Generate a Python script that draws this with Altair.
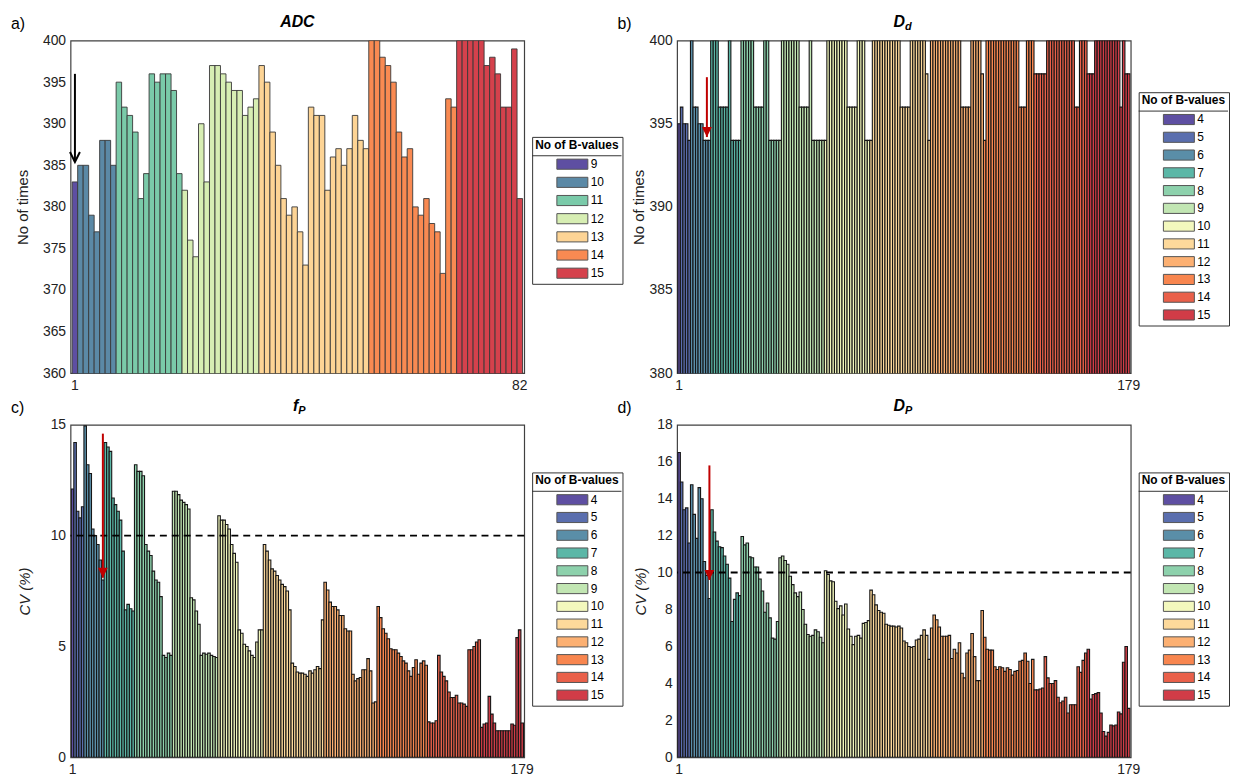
import altair as alt
import pandas as pd

FONT = "Liberation Sans"

# ---------------- Panel a : ADC ----------------
a_groups = ["9", "10", "11", "12", "13", "14", "15"]
a_sizes = [1, 7, 12, 14, 20, 16, 12]
a_colors = ["#5e4fa2", "#5b89a6", "#7acaa9", "#d7eeb3", "#fdd495", "#f98a52", "#d5414c"]
a_values = [
    383,
    385, 385, 379, 377, 388, 388, 385,
    395, 392, 391, 389, 381, 384, 396, 395, 396, 396, 394, 384,
    382, 376, 374, 390, 383, 397, 397, 396, 395, 394, 394, 391, 392, 393,
    397, 395, 389, 385, 381, 379, 380, 377, 373, 392, 391, 391, 382, 386, 387, 385, 387, 391, 388, 387,
    400, 400, 398, 397, 395, 389, 386, 387, 380, 379, 381, 378, 377, 372, 393, 392,
    400, 400, 400, 400, 400, 397, 398, 396, 392, 392, 399, 381,
]

# ---------------- Panels b-d : 179 combinations ----------------
bd_groups = ["4", "5", "6", "7", "8", "9", "10", "11", "12", "13", "14", "15"]
bd_sizes = [1, 4, 8, 12, 15, 18, 18, 24, 21, 20, 21, 17]
bd_colors = ["#5e4fa2", "#5a6eae", "#5a8ea8", "#5bb7a7", "#8dd1ac", "#c2e6b3",
             "#f3f8bd", "#fdd99b", "#fcb072", "#f8864f", "#e9604a", "#d13c47"]

b_values = [
    395, 396, 395, 395, 394, 400, 396, 396, 395, 395,
    394, 394, 394, 400, 400, 400, 396, 396, 396, 396,
    400, 394, 394, 394, 394, 400, 400, 400, 400, 400,
    396, 396, 396, 396, 400, 400, 394, 394, 394, 394,
    394, 400, 400, 400, 400, 400, 400, 400, 396, 396,
    396, 396, 400, 394, 394, 394, 394, 394, 394, 400,
    400, 400, 400, 400, 400, 400, 400, 396, 396, 396,
    396, 400, 400, 400, 394, 394, 394, 400, 400, 400,
    400, 400, 400, 400, 400, 400, 400, 400, 396, 396,
    396, 396, 400, 400, 400, 400, 400, 400, 398, 394,
    400, 400, 400, 400, 400, 400, 400, 400, 400, 400,
    400, 400, 396, 396, 396, 396, 400, 400, 400, 400,
    398, 394, 400, 400, 400, 400, 400, 400, 400, 400,
    400, 400, 400, 400, 400, 396, 396, 396, 400, 400,
    400, 398, 398, 398, 398, 398, 400, 400, 400, 400,
    400, 400, 400, 400, 400, 400, 400, 396, 396, 400,
    400, 400, 398, 398, 398, 400, 400, 400, 400, 400,
    400, 400, 400, 400, 400, 396, 400, 398, 398,
]

c_values = [
    12.1, 14.2, 11.1, 10.8, 11.3, 14.95, 13.2, 12.8, 10.3, 10.0,
    9.6, 8.9, 8.0, 14.2, 14.0, 13.8, 11.7, 11.4, 11.1, 10.7,
    9.3, 6.65, 6.9, 6.7, 6.6, 13.2, 12.9, 12.9, 12.7, 9.6,
    9.3, 9.1, 8.4, 8.0, 7.9, 7.25, 4.6, 4.5, 4.7, 4.6,
    12.0, 12.0, 11.85, 11.6, 11.5, 11.4, 11.2, 7.2, 7.1, 6.6,
    6.0, 4.6, 4.7, 4.65, 4.7, 4.6, 4.55, 4.5, 10.9, 10.7,
    10.7, 10.5, 10.3, 9.6, 9.2, 8.8, 5.75, 5.6, 5.1, 5.0,
    4.8, 4.6, 4.5, 5.2, 5.75, 5.75, 9.6, 9.3, 8.9, 8.5,
    8.4, 8.2, 8.0, 7.8, 7.7, 7.5, 6.65, 4.25, 4.1, 3.85,
    3.8, 3.8, 3.75, 3.65, 3.9, 3.8, 3.95, 4.1, 4.0, 6.2,
    7.9, 7.55, 7.0, 6.8, 6.8, 6.65, 6.4, 6.4, 5.8, 5.7,
    5.7, 3.75, 3.45, 3.55, 3.6, 3.95, 3.95, 4.45, 3.9, 2.45,
    2.5, 6.8, 6.3, 5.8, 5.6, 5.35, 4.9, 4.85, 4.85, 4.7,
    4.55, 4.35, 4.25, 3.9, 3.65, 4.05, 4.4, 3.75, 4.25, 4.35,
    4.15, 1.6, 1.55, 1.55, 1.65, 4.6, 3.85, 3.65, 3.45, 2.95,
    2.7, 2.7, 2.8, 2.45, 2.45, 2.4, 2.3, 4.85, 4.85, 5.0,
    5.2, 5.3, 1.35, 1.5, 1.55, 2.75, 1.95, 1.55, 1.2, 1.2,
    1.2, 1.2, 1.2, 1.2, 1.5, 1.45, 5.4, 5.75, 1.55,
]

d_values = [
    16.5, 14.9, 13.4, 13.5, 11.6, 14.75, 13.15, 11.85, 14.6, 14.0,
    10.6, 9.85, 8.6, 13.4, 12.2, 11.7, 11.4, 11.35, 10.9, 10.45,
    9.7, 7.35, 8.55, 8.9, 8.75, 11.95, 11.5, 11.6, 10.85, 10.8,
    10.3, 10.3, 9.65, 9.0, 7.85, 8.35, 7.55, 6.45, 6.4, 7.35,
    10.8, 10.9, 10.65, 10.45, 9.8, 9.35, 8.9, 8.7, 8.95, 8.0,
    7.2, 6.65, 6.55, 6.6, 6.9, 6.8, 6.5, 6.2, 10.1, 9.9,
    9.55, 9.5, 8.45, 8.05, 8.2, 7.7, 8.3, 6.95, 6.55, 6.1,
    6.55, 6.6, 6.45, 7.25, 7.3, 7.4, 9.05, 8.8, 8.25, 7.95,
    7.85, 7.8, 7.2, 7.15, 7.1, 7.1, 7.05, 7.1, 7.0, 6.3,
    6.2, 6.0, 5.95, 6.0, 6.35, 6.4, 6.6, 6.9, 6.6, 5.3,
    7.0, 7.7, 7.45, 7.05, 6.55, 6.55, 6.55, 6.6, 5.35, 5.85,
    5.65, 6.2, 4.55, 4.3, 5.65, 5.8, 6.7, 5.45, 4.15, 4.15,
    7.95, 6.5, 5.85, 5.8, 5.8, 4.9, 4.75, 4.9, 4.85, 4.65,
    4.85, 4.75, 4.45, 4.65, 4.7, 5.2, 5.25, 5.65, 5.2, 4.0,
    5.3, 3.65, 3.65, 3.7, 3.75, 5.45, 4.3, 4.0, 4.0, 4.15,
    3.25, 2.95, 3.05, 3.25, 2.4, 2.85, 2.85, 2.85, 4.9, 4.6,
    5.25, 5.65, 5.85, 3.15, 3.4, 3.45, 3.5, 2.4, 1.4, 1.15,
    1.35, 1.75, 1.7, 1.75, 2.45, 2.35, 5.15, 6.0, 2.65,
]

# arrows: [bar index, start value, tip value]
a_arrow = [1, 396.0, 385.4]
b_arrow = [12, 397.8, 394.2]
c_arrow = [13, 14.6, 8.1]
d_arrow = [13, 15.8, 9.6]

a_yticks = [360, 365, 370, 375, 380, 385, 390, 395, 400]
b_yticks = [380, 385, 390, 395, 400]
c_yticks = [0, 5, 10, 15]
d_yticks = [0, 2, 4, 6, 8, 10, 12, 14, 16, 18]
threshold = [10]


def expand_groups(groups, sizes):
    out = []
    for g, n in zip(groups, sizes):
        out.extend([g] * n)
    return out


def frame(values, groups, sizes):
    grp = expand_groups(groups, sizes)
    assert len(grp) == len(values), (len(grp), len(values))
    return pd.DataFrame({"idx": list(range(1, len(values) + 1)), "value": values, "group": grp})


def panel(df, groups, colors, ydom, yticks, ytitle, ytitle_style, tmain, tsub, label,
          arrow, arrow_color, open_head, dashed, legend_y, row_pad, title_pad, stroke, stroke_w, W, H):
    n = len(df)
    LX = W + 8
    LW = 90
    x_axis = alt.Axis(values=[1, n], labelAngle=0, ticks=False, domain=False, grid=False,
                      title=None, labelFontSize=14, labelPadding=5, labelFont=FONT,
                      labelColor="#222", labelOverlap=False)
    y_axis = alt.Axis(values=yticks, ticks=False, domain=False, grid=False, title=ytitle,
                      labelOverlap=False,
                      labelFontSize=14, labelPadding=5, labelFont=FONT, labelColor="#222",
                      titleFontSize=15, titleFontWeight="normal", titleFontStyle=ytitle_style,
                      titleFont=FONT, titleColor="#222", titlePadding=title_pad)
    x_scale = alt.Scale(paddingInner=0, paddingOuter=0.3)
    y_scale = alt.Scale(domain=ydom, zero=False, nice=False)
    legend = alt.Legend(
        title="No of B-values", orient="none", legendX=LX, legendY=legend_y,
        direction="vertical", titleFontSize=12, titleFontWeight="bold", titleFont=FONT,
        titleColor="black", titleAnchor="middle", titlePadding=6,
        labelFontSize=12, labelFont=FONT, labelColor="black",
        symbolType="M-2.6,-0.85L2.6,-0.85L2.6,0.85L-2.6,0.85Z", symbolSize=144,
        symbolStrokeColor="#555", symbolStrokeWidth=1, symbolOpacity=1,
        symbolOffset=16, labelOffset=12, rowPadding=row_pad, padding=3,
        strokeColor="#333", cornerRadius=0,
    )
    bars = alt.Chart(df).mark_bar(clip=True, stroke=stroke, strokeWidth=stroke_w).encode(
        x=alt.X("idx:O", scale=x_scale, axis=x_axis),
        y=alt.Y("value:Q", scale=y_scale, axis=y_axis),
        color=alt.Color("group:N", scale=alt.Scale(domain=groups, range=colors), legend=legend),
    )
    layers = [bars]
    if dashed:
        layers.append(
            alt.Chart(pd.DataFrame({"v": threshold})).mark_rule(
                color="black", strokeWidth=2, strokeDash=[7, 5]).encode(
                y=alt.Y("v:Q", scale=y_scale, axis=y_axis)))
    arr = pd.DataFrame({"idx": [arrow[0]], "top": [arrow[1]], "tip": [arrow[2]]})
    layers.append(alt.Chart(arr).mark_rule(color=arrow_color, strokeWidth=2).encode(
        x=alt.X("idx:O", scale=x_scale, axis=x_axis),
        y=alt.Y("top:Q", scale=y_scale, axis=y_axis), y2="tip:Q"))
    if open_head:
        head = alt.Chart(arr).mark_point(shape="M-1,-2L0,0L1,-2", size=100, filled=False,
                                         color=arrow_color, strokeWidth=2, opacity=1)
    else:
        head = alt.Chart(arr).mark_point(shape="M-1,-2L0,0L1,-2Z", size=100, filled=True,
                                         color=arrow_color, opacity=1)
    layers.append(head.encode(x=alt.X("idx:O", scale=x_scale, axis=x_axis),
                              y=alt.Y("tip:Q", scale=y_scale, axis=y_axis)))
    cx = W / 2
    if tsub:
        layers.append(alt.Chart(pd.DataFrame({"t": [tmain]})).mark_text(
            align="right", baseline="middle", font=FONT, fontSize=16, fontWeight="bold",
            fontStyle="italic", color="black").encode(text="t:N", x=alt.value(cx + 1), y=alt.value(-19)))
        layers.append(alt.Chart(pd.DataFrame({"t": [tsub]})).mark_text(
            align="left", baseline="middle", font=FONT, fontSize=11, fontWeight="bold",
            fontStyle="italic", color="black").encode(text="t:N", x=alt.value(cx + 1), y=alt.value(-14)))
    else:
        layers.append(alt.Chart(pd.DataFrame({"t": [tmain]})).mark_text(
            align="center", baseline="middle", font=FONT, fontSize=16, fontWeight="bold",
            fontStyle="italic", color="black").encode(text="t:N", x=alt.value(cx), y=alt.value(-19)))
    layers.append(alt.Chart(pd.DataFrame({"t": [label]})).mark_text(
        align="left", baseline="middle", font=FONT, fontSize=16, color="black").encode(
        text="t:N", x=alt.value(-60), y=alt.value(-17)))
    # divider under legend title
    layers.append(alt.Chart(pd.DataFrame({"k": [0]})).mark_rule(color="#333", strokeWidth=1).encode(
        x=alt.value(LX), x2=alt.value(LX + LW), y=alt.value(legend_y + 19)))
    return alt.layer(*layers).properties(width=W, height=H)


W1, W2, H = 457, 457, 335

pa = panel(frame(a_values, a_groups, a_sizes), a_groups, a_colors, [360, 400], a_yticks,
           "No of times", "normal", "ADC", None, "a)", a_arrow, "black", True, False,
           97, 3.3, 12, "#383838", 0.9, W1, H)
pb = panel(frame(b_values, bd_groups, bd_sizes), bd_groups, bd_colors, [380, 400], b_yticks,
           "No of times", "normal", "D", "d", "b)", b_arrow, "#c00000", False, False,
           52, 2.9, 2, "#161616", 1.1, W2, H)
pc = panel(frame(c_values, bd_groups, bd_sizes), bd_groups, bd_colors, [0, 15], c_yticks,
           "CV (%)", "italic", "f", "P", "c)", c_arrow, "#c00000", False, True,
           48, 2.9, 18, "#161616", 1.1, W1, H)
pd_ = panel(frame(d_values, bd_groups, bd_sizes), bd_groups, bd_colors, [0, 18], d_yticks,
            "CV (%)", "italic", "D", "P", "d)", d_arrow, "#c00000", False, True,
            48, 2.9, 8, "#161616", 1.1, W2, H)

chart = alt.concat(pa, pb, pc, pd_, columns=2, spacing={"row": 52, "column": 154},
                   bounds="flush").resolve_scale(color="independent", x="independent",
                                                  y="independent").properties(
    padding={"left": 2, "top": 2, "right": 0, "bottom": 0}, background="white"
).configure_view(stroke="#404040", strokeWidth=1.2).configure_axis(labelOverlap=False)

chart.save("out.html", embed_options={"renderer": "svg", "actions": False})
